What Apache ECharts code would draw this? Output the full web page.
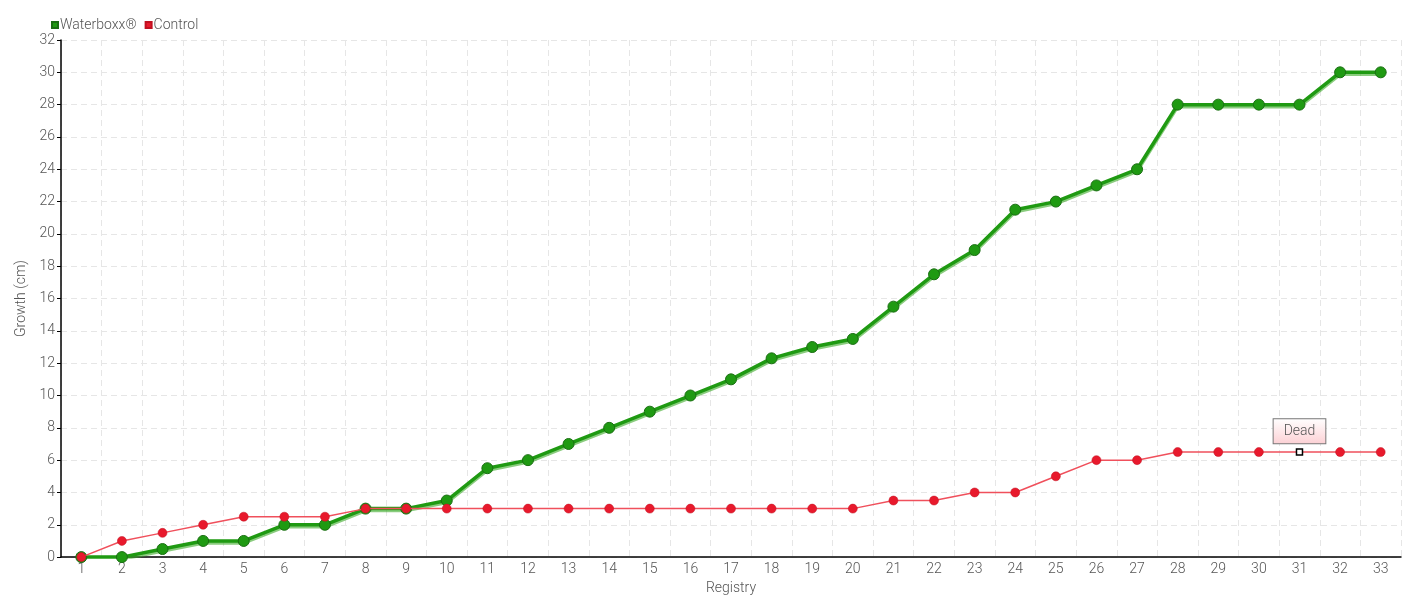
<!DOCTYPE html>
<html><head><meta charset="utf-8">
<script src="https://cdn.jsdelivr.net/npm/echarts@6/dist/echarts.min.js"></script>
<style>html,body{margin:0;padding:0;background:#fff;overflow:hidden}#c{width:1420px;height:600px}</style>
</head><body><div id="c"></div>
<script>
const categories = ['1','2','3','4','5','6','7','8','9','10','11','12','13','14','15','16','17','18','19','20','21','22','23','24','25','26','27','28','29','30','31','32','33'];
const waterboxx = [0,0,0.5,1,1,2,2,3,3,3.5,5.5,6,7,8,9,10,11,12.3,13,13.5,15.5,17.5,19,21.5,22,23,24,28,28,28,28,30,30];
const control = [0,1,1.5,2,2.5,2.5,2.5,3,3,3,3,3,3,3,3,3,3,3,3,3,3.5,3.5,4,4,5,6,6,6.5,6.5,6.5,6.5,6.5,6.5];
const deadIndex = 30;
const deadLabel = 'Dead';

const FONT = 'Roboto, sans-serif';
const FW = 300;
const controlData = control.map((v, i) => i === deadIndex ? {
  value: v, symbol: 'rect', symbolSize: 6,
  itemStyle: {color: '#fff', borderColor: '#000', borderWidth: 1.5},
  label: {show: true, position: 'top', distance: 5, formatter: deadLabel, color: '#555', fontSize: 14, fontFamily: FONT, fontWeight: FW,
    backgroundColor: {type: 'linear', x: 0, y: 0, x2: 0, y2: 1, colorStops: [{offset: 0, color: '#fff'}, {offset: 1, color: '#fcd0d4'}]},
    borderColor: '#777', borderWidth: 1, padding: [5, 10, 5, 10]}
} : v);

const chart = echarts.init(document.getElementById('c'));
chart.setOption({
  animation: false,
  textStyle: {fontFamily: FONT, fontWeight: FW},
  legend: {left: 46, top: 13, itemWidth: 6, itemHeight: 6, itemGap: 8, icon: 'rect',
    textStyle: {color: '#555', fontSize: 14, fontFamily: FONT, fontWeight: FW, padding: [0, 0, 0, -3]},
    data: ['Waterboxx®', 'Control']},
  grid: {left: 61, right: 19, top: 40, bottom: 40},
  xAxis: {type: 'category', data: categories, boundaryGap: true,
    name: 'Registry', nameLocation: 'middle', nameGap: 19, nameTextStyle: {color: '#555', fontSize: 14, fontFamily: FONT, fontWeight: FW},
    axisLine: {lineStyle: {color: '#000', width: 1.5}},
    axisTick: {alignWithLabel: true, length: 4, lineStyle: {color: '#000'}},
    axisLabel: {color: '#555', fontSize: 14, margin: 5, fontFamily: FONT, fontWeight: FW},
    splitLine: {show: true, interval: 0, lineStyle: {color: '#e6e6e6', type: [6, 4]}}},
  yAxis: {type: 'value', min: 0, max: 32, interval: 2,
    name: 'Growth (cm)', nameLocation: 'middle', nameGap: 26, nameTextStyle: {color: '#555', fontSize: 14, fontFamily: FONT, fontWeight: FW},
    axisLine: {show: true, lineStyle: {color: '#000', width: 1.5}},
    axisTick: {show: true, length: 4, lineStyle: {color: '#000'}},
    axisLabel: {color: '#555', fontSize: 14, margin: 6, fontFamily: FONT, fontWeight: FW},
    splitLine: {show: true, lineStyle: {color: '#e6e6e6', type: [6, 4]}}},
  series: [
    {name: 'Waterboxx®', type: 'line', data: waterboxx, symbol: 'circle', symbolSize: 11,
      color: '#1f9a12',
      lineStyle: {color: '#1f9a12', width: 3.5, shadowColor: 'rgba(60,170,40,0.6)', shadowOffsetY: 2, shadowBlur: 0},
      itemStyle: {color: '#1f9a12', borderColor: '#1a6e12', borderWidth: 1}, z: 2},
    {name: 'Control', type: 'line', data: controlData, symbol: 'circle', symbolSize: 9,
      color: '#e8192c',
      lineStyle: {color: '#f0505c', width: 1.5},
      itemStyle: {color: '#e8192c', borderColor: '#c01020', borderWidth: 0.5}, z: 3}
  ]
});
</script></body></html>
